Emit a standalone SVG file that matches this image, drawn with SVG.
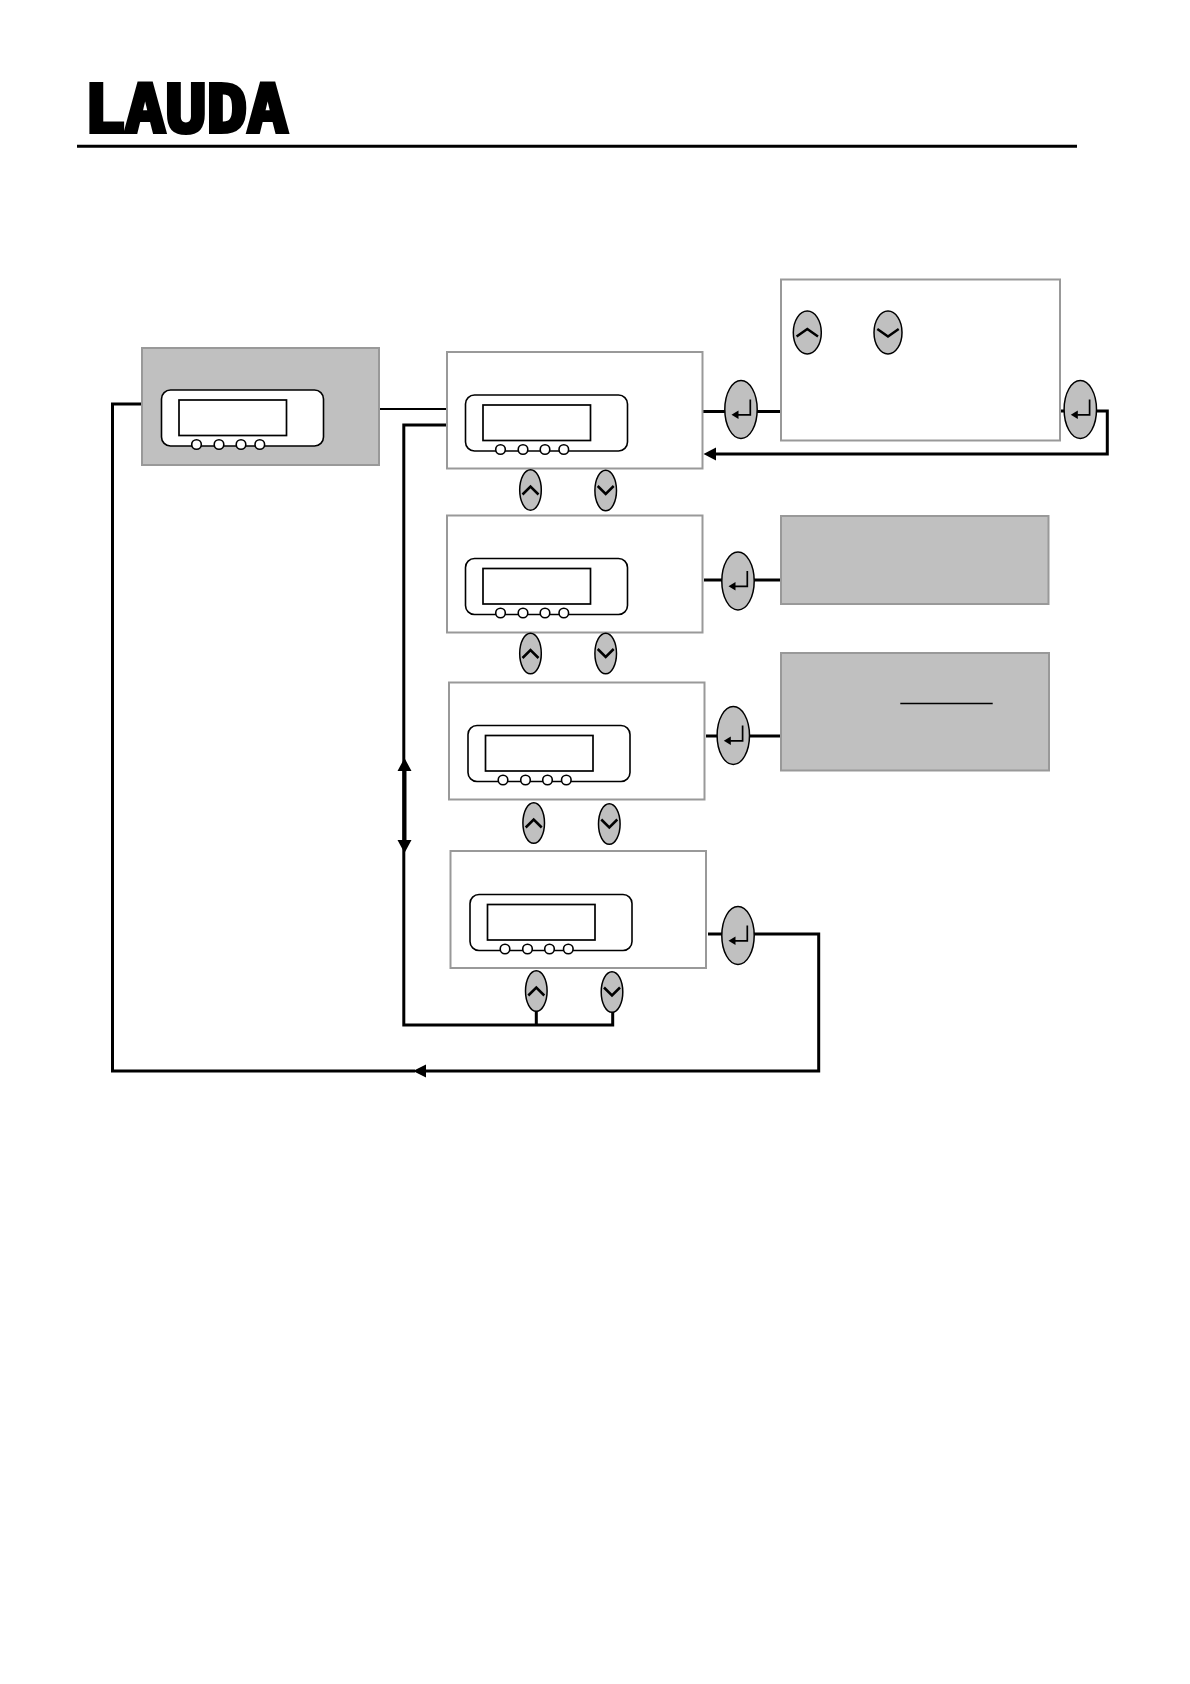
<svg xmlns="http://www.w3.org/2000/svg" width="1190" height="1684" viewBox="0 0 1190 1684">
<style>
.box{stroke:#999;stroke-width:2}
.w{fill:#fff}
.g{fill:#c0c0c0}
.ln{fill:none;stroke:#000;stroke-width:3;stroke-linejoin:miter}
.k{fill:#c0c0c0;stroke:#000;stroke-width:1.5}
.ch{fill:none;stroke:#000;stroke-width:2.5}
.lcd{fill:#fff;stroke:#000;stroke-width:1.7}
.pan{fill:#fff;stroke:#000;stroke-width:1.6}
.logo{font-family:"DejaVu Sans Mono","Liberation Mono",monospace;font-weight:700;font-size:66px;fill:#000;stroke:#000;stroke-width:4;stroke-linejoin:miter}
</style>
<defs>
<g id="panel">
<rect class="pan" x="0" y="0" width="162" height="56" rx="9"/>
<rect class="lcd" x="17.5" y="10" width="107.5" height="35.5"/>
<circle class="pan" cx="35" cy="54.5" r="4.8"/>
<circle class="pan" cx="57.5" cy="54.5" r="4.8"/>
<circle class="pan" cx="79.5" cy="54.5" r="4.8"/>
<circle class="pan" cx="98.3" cy="54.5" r="4.8"/>
</g>
<g id="up"><ellipse class="k" rx="10.8" ry="20.3"/><path class="ch" d="M-8 4.500L0-3.500L8 4.500"/></g>
<g id="down"><ellipse class="k" rx="10.8" ry="20.3"/><path class="ch" d="M-8-4.500L0 3.500L8-4.500"/></g>
<g id="enter"><ellipse class="k" rx="16.2" ry="29"/><path d="M9.300-10V5.300H-3" fill="none" stroke="#000" stroke-width="1.7"/><path d="M-9.500 5.300L-2.500 1V9.600Z" fill="#000"/></g>
</defs>
<rect width="1190" height="1684" fill="#fff"/>
<g id="header">
<text class="logo" x="84" y="132" textLength="204" lengthAdjust="spacingAndGlyphs">LAUDA</text>
<line x1="77" y1="146.300" x2="1077" y2="146.300" stroke="#000" stroke-width="3"/>
</g>
<g id="connectors">
<path class="ln" d="M141 404H112.500V1071H415M425 1071H818.700V934H754"/>
<path d="M413 1071L426 1064.500V1077.500Z" fill="#000"/>
<path class="ln" d="M380 409H446" style="stroke-width:2"/>
<path class="ln" d="M446 425H403.800V1025H612.700V1012M536.300 1025V1011"/>
<path d="M404.500 770V840" fill="none" stroke="#000" stroke-width="4"/>
<path d="M404.500 758L397.500 771H411.500Z M404.500 853L397.500 840H411.500Z" fill="#000"/>
<path class="ln" d="M703 411.500H780M1061 411H1096H1107.300V454H714"/>
<path d="M703.500 454L716 447.500V460.500Z" fill="#000"/>
<path class="ln" d="M704 580H780.700"/>
<path class="ln" d="M706 736H780"/>
<path class="ln" d="M708 934H722"/>
</g>
<g id="node-main">
<rect class="box g" x="142" y="348" width="237" height="117"/>
<use href="#panel" x="161.500" y="390"/>
</g>
<g id="node-menu1">
<rect class="box w" x="447" y="352" width="255.500" height="116.500"/>
<use href="#panel" x="465.500" y="395"/>
<use href="#up" x="530.500" y="490"/>
<use href="#down" x="605.700" y="490.500"/>
<use href="#enter" x="741" y="409.500"/>
</g>
<g id="node-detail1">
<rect class="box w" x="781" y="279.500" width="279" height="161"/>
<g transform="translate(807.300 332.500)"><ellipse class="k" rx="14" ry="21.500"/><path class="ch" d="M-10.700 4L0-3.500L10.700 4"/></g>
<g transform="translate(888 332.500)"><ellipse class="k" rx="14" ry="21.500"/><path class="ch" d="M-10.700-3.500L0 4L10.700-3.500"/></g>
<use href="#enter" x="1080.300" y="409.500"/>
</g>
<g id="node-menu2">
<rect class="box w" x="447" y="515.500" width="255.500" height="117"/>
<use href="#panel" x="465.500" y="558.500"/>
<use href="#up" x="530.500" y="653.500"/>
<use href="#down" x="605.700" y="653.500"/>
<use href="#enter" x="738" y="581"/>
</g>
<g id="node-detail2">
<rect class="box g" x="781" y="516" width="267.500" height="88"/>
</g>
<g id="node-menu3">
<rect class="box w" x="449" y="682.500" width="255.500" height="117"/>
<use href="#panel" x="468" y="725.500"/>
<use href="#up" x="533.700" y="823"/>
<use href="#down" x="609.300" y="824"/>
<use href="#enter" x="733.300" y="735.500"/>
</g>
<g id="node-detail3">
<rect class="box g" x="781" y="653" width="268" height="117.500"/>
<line x1="900.300" y1="703.500" x2="992.700" y2="703.500" stroke="#000" stroke-width="1.500"/>
</g>
<g id="node-menu4">
<rect class="box w" x="450.500" y="851" width="255.500" height="117"/>
<use href="#panel" x="470" y="894.500"/>
<use href="#up" x="536.300" y="991"/>
<use href="#down" x="612" y="992"/>
<use href="#enter" x="738" y="935.500"/>
</g>
</svg>
